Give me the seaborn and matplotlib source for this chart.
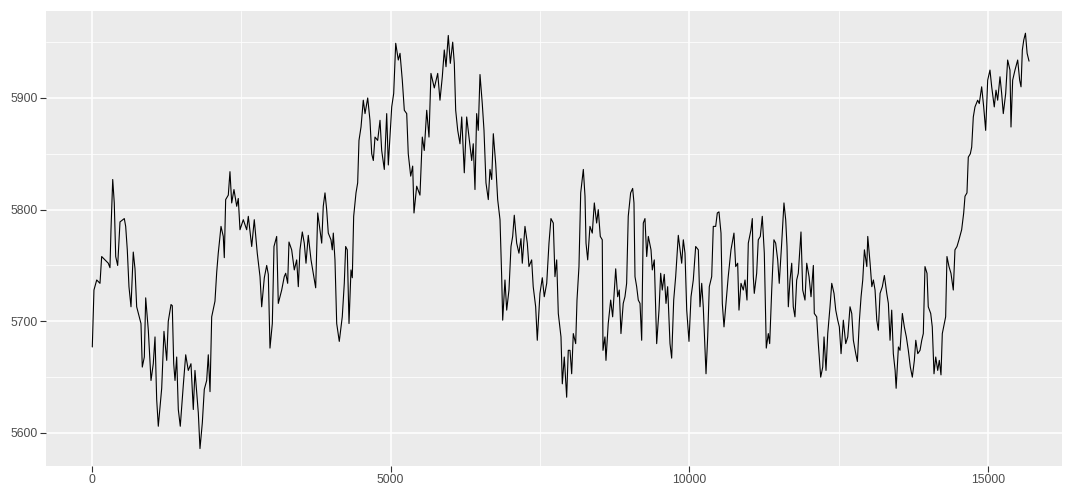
import matplotlib
matplotlib.use("Agg")
import matplotlib.pyplot as plt
import seaborn as sns
import pandas as pd
from matplotlib.ticker import MultipleLocator

idx = [5, 33, 79, 134, 162, 273, 301, 318, 347, 373, 397, 430, 469, 541, 564, 591, 619, 653, 691, 720,
       748, 820, 842, 876, 899, 943, 988, 1026, 1055, 1083, 1110, 1167, 1205, 1251, 1277, 1323, 1344, 1368, 1390, 1418,
       1445, 1478, 1529, 1569, 1612, 1657, 1696, 1724, 1780, 1808, 1847, 1880, 1920, 1947, 1976, 2004, 2059, 2088, 2114, 2160,
       2198, 2215, 2238, 2282, 2310, 2339, 2377, 2423, 2449, 2478, 2533, 2590, 2617, 2674, 2717,
       2767, 2813, 2841, 2885, 2925, 2952, 2980, 3019, 3047, 3092, 3119, 3176, 3219, 3243, 3276, 3298, 3343, 3387, 3427, 3454,
       3482, 3521, 3554, 3583, 3621, 3667, 3705, 3745, 3779, 3817, 3846, 3872, 3901, 3929, 3956, 4001, 4023, 4040, 4068, 4097,
       4140, 4190, 4224, 4247, 4274, 4303, 4336, 4358, 4381, 4420, 4448, 4470, 4504, 4542, 4571, 4616, 4654, 4683, 4710, 4738,
       4783, 4822, 4850, 4894, 4934, 4961, 5018, 5051, 5085, 5128, 5157, 5195, 5229, 5269, 5295, 5336, 5369, 5391,
       5436, 5491, 5530, 5563, 5604, 5642, 5675, 5731, 5788, 5826, 5865, 5898, 5927, 5965, 5999, 6039, 6066, 6089, 6123, 6161,
       6190, 6233, 6273, 6312, 6357, 6383, 6412, 6440, 6467, 6496, 6534, 6563, 6596, 6635, 6663, 6692, 6719, 6759, 6792, 6831,
       6859, 6876, 6914, 6943, 6981, 7015, 7043, 7070, 7110, 7148, 7182, 7204, 7249, 7288, 7316, 7361, 7387, 7428, 7455, 7500,
       7539, 7572, 7613, 7651, 7684, 7723, 7751, 7780, 7807, 7852, 7874, 7907,
       7947, 7974, 8003, 8031, 8058, 8098, 8120, 8153, 8182, 8226, 8254, 8271, 8299, 8337, 8376, 8410, 8449, 8476, 8510, 8543,
       8555, 8588, 8605, 8643, 8684, 8717, 8768, 8801, 8828, 8856, 8894, 8923, 8951, 8978, 9018, 9052, 9074, 9091, 9119, 9146,
       9175, 9203, 9230, 9258, 9287, 9314, 9359, 9381, 9414, 9454, 9493, 9521, 9548, 9581, 9610, 9638, 9677, 9705, 9739, 9772,
       9816, 9845, 9873, 9900, 9928, 9957, 9995, 10029, 10067, 10107, 10151, 10179, 10208, 10234, 10263, 10280, 10308, 10335, 10375, 10402,
       10442, 10469, 10497, 10531, 10553, 10581, 10615, 10652, 10698, 10748, 10777, 10810, 10832, 10866, 10904, 10933, 10966, 10988, 11033, 11055,
       11072, 11088, 11128, 11155, 11189, 11222, 11256, 11289, 11323, 11346, 11380, 11417, 11446, 11480, 11506, 11547, 11585, 11614, 11636, 11658,
       11686, 11715, 11741, 11769, 11798, 11825, 11870, 11899, 11937, 11966, 12005, 12038, 12077, 12093, 12133, 12160, 12200, 12234, 12256, 12289,
       12318, 12356, 12385, 12423, 12452, 12485, 12512, 12541, 12579, 12619, 12653, 12691, 12720, 12747, 12787, 12814, 12848, 12876, 12904, 12932,
       12972, 12988, 13027, 13056, 13082, 13110, 13139, 13165, 13194, 13232, 13266, 13306, 13333, 13361, 13389, 13416, 13446, 13463, 13501, 13528,
       13567, 13600, 13634, 13667, 13701, 13734, 13768, 13792, 13825, 13863, 13892, 13918, 13946, 13980, 14001, 14042, 14068, 14097, 14126, 14159,
       14186, 14214, 14236, 14269, 14292, 14314, 14348, 14381, 14420, 14448, 14482, 14515, 14560, 14594, 14616, 14649, 14671, 14705, 14728, 14755,
       14783, 14828, 14855, 14895, 14929, 14962, 14996, 15034, 15063, 15106, 15135, 15163, 15202, 15230, 15257, 15297, 15330, 15369, 15386, 15414,
       15453, 15498, 15531, 15554, 15576, 15600, 15628, 15656, 15688]

price = [5677, 5728, 5737, 5734, 5758, 5752, 5748, 5782, 5827, 5806, 5758, 5750, 5789, 5792, 5785, 5764, 5731, 5713, 5762, 5747,
         5713, 5698, 5659, 5668, 5721, 5692, 5647, 5662, 5686, 5630, 5606, 5640, 5691, 5665, 5700, 5715, 5714, 5662, 5647, 5668,
         5621, 5606, 5643, 5670, 5656, 5662, 5621, 5656, 5618, 5586, 5609, 5639, 5647, 5670, 5637, 5704, 5718, 5744, 5761, 5785,
         5776, 5757, 5809, 5813, 5834, 5806, 5818, 5803, 5810, 5782, 5791, 5782, 5794, 5767, 5791,
         5761, 5740, 5713, 5739, 5750, 5742, 5676, 5698, 5767, 5776, 5716, 5728, 5740, 5743, 5734, 5771, 5764, 5746, 5755, 5731,
         5764, 5780, 5770, 5752, 5777, 5755, 5743, 5730, 5797, 5782, 5770, 5803, 5815, 5800, 5779, 5773, 5764, 5779, 5755, 5698,
         5682, 5704, 5734, 5767, 5764, 5698, 5746, 5739, 5794, 5815, 5824, 5862, 5874, 5898, 5886, 5900, 5880, 5850, 5844, 5865,
         5862, 5880, 5853, 5836, 5886, 5840, 5892, 5904, 5949, 5934, 5940, 5916, 5889, 5886, 5850, 5830, 5839, 5797,
         5821, 5813, 5865, 5853, 5889, 5865, 5922, 5909, 5922, 5898, 5919, 5943, 5928, 5956, 5931, 5950, 5931, 5889, 5871, 5859,
         5883, 5833, 5883, 5865, 5844, 5859, 5818, 5886, 5871, 5921, 5895, 5871, 5824, 5809, 5836, 5827, 5868, 5841, 5809, 5791,
         5740, 5701, 5737, 5710, 5728, 5767, 5776, 5795, 5770, 5761, 5774, 5752, 5785, 5770, 5749, 5755, 5731, 5713, 5683, 5725,
         5739, 5722, 5734, 5770, 5792, 5788, 5740, 5755, 5707, 5686, 5644, 5668,
         5632, 5674, 5674, 5653, 5689, 5680, 5719, 5749, 5815, 5836, 5812, 5770, 5755, 5785, 5779, 5806, 5788, 5800, 5776, 5773,
         5674, 5686, 5665, 5698, 5719, 5704, 5747, 5722, 5728, 5689, 5716, 5722, 5734, 5794, 5815, 5819, 5806, 5740, 5731, 5719,
         5716, 5683, 5788, 5792, 5758, 5776, 5764, 5746, 5755, 5680, 5710, 5743, 5728, 5742, 5716, 5731, 5680, 5667, 5719, 5740,
         5777, 5764, 5752, 5773, 5761, 5710, 5682, 5722, 5737, 5767, 5764, 5713, 5734, 5713, 5674, 5653, 5686, 5731, 5740, 5785,
         5785, 5797, 5798, 5779, 5716, 5695, 5716, 5740, 5764, 5779, 5749, 5752, 5710, 5734, 5728, 5737, 5719, 5770, 5782, 5792,
         5740, 5725, 5743, 5773, 5776, 5794, 5761, 5676, 5689, 5680, 5728, 5773, 5770, 5755, 5734, 5770, 5806, 5791, 5767, 5713,
         5737, 5752, 5713, 5704, 5737, 5743, 5780, 5728, 5719, 5752, 5740, 5722, 5750, 5707, 5704, 5680, 5650, 5659, 5686, 5656,
         5689, 5713, 5734, 5725, 5710, 5701, 5695, 5671, 5701, 5680, 5686, 5713, 5707, 5683, 5671, 5664, 5701, 5722, 5737, 5764,
         5749, 5776, 5752, 5731, 5737, 5728, 5701, 5692, 5725, 5731, 5741, 5725, 5716, 5683, 5710, 5671, 5656, 5640, 5677, 5674,
         5707, 5695, 5686, 5674, 5659, 5650, 5665, 5683, 5671, 5674, 5683, 5689, 5749, 5743, 5713, 5707, 5695, 5653, 5668, 5656,
         5665, 5652, 5689, 5698, 5704, 5758, 5749, 5743, 5728, 5764, 5767, 5773, 5782, 5797, 5812, 5815, 5847, 5850, 5856, 5883,
         5892, 5898, 5895, 5910, 5892, 5871, 5916, 5925, 5910, 5892, 5907, 5898, 5919, 5904, 5886, 5904, 5934, 5925, 5874, 5916,
         5925, 5934, 5916, 5910, 5943, 5952, 5958, 5940, 5933]

x_ticks = [0, 5000, 10000, 15000]
y_ticks = [5600, 5700, 5800, 5900]

df = pd.DataFrame({"index": idx, "price": price})

sns.set_theme(style="darkgrid")
plt.rcParams["font.family"] = ["Liberation Sans", "DejaVu Sans"]

fig = plt.figure(figsize=(10.67, 4.88), dpi=100)
ax = fig.add_axes([46 / 1067, 22 / 488, 1016 / 1067, 455 / 488])
ax.set_facecolor("#EBEBEB")

sns.lineplot(data=df, x="index", y="price", ax=ax, color="black", linewidth=0.8, sort=False)

ax.set_xlim(-770, 16240)
ax.set_ylim(5570.4, 5977.9)
ax.set_xticks(x_ticks)
ax.set_yticks(y_ticks)
ax.set_xticklabels([str(t) for t in x_ticks])
ax.set_yticklabels([str(t) for t in y_ticks])
ax.xaxis.set_minor_locator(MultipleLocator(2500))
ax.yaxis.set_minor_locator(MultipleLocator(50))
ax.grid(which="major", color="white", linewidth=1.1)
ax.grid(which="minor", color="white", linewidth=0.55)
ax.set_axisbelow(True)
for s in ax.spines.values():
    s.set_visible(False)
ax.tick_params(axis="both", which="major", length=4, width=0.8, color="#333333",
               labelsize=8.8, labelcolor="#4D4D4D", pad=2, bottom=True, left=True)
ax.tick_params(axis="both", which="minor", length=0)
ax.set_xlabel("")
ax.set_ylabel("")

fig.savefig("out.png", dpi=100, facecolor="white")
